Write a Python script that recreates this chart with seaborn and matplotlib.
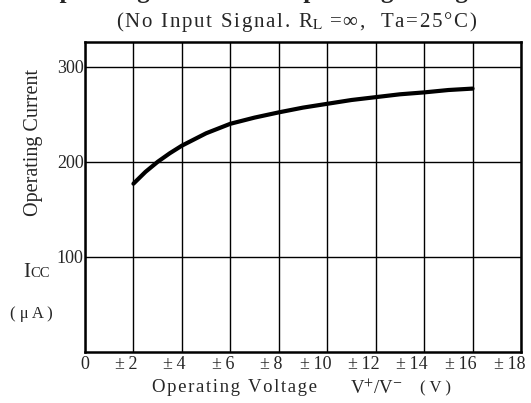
import matplotlib
matplotlib.use("Agg")
import matplotlib.pyplot as plt
import matplotlib.transforms as mtransforms
import seaborn as sns
import pandas as pd

# data
voltage = [2, 2.5, 3, 3.5, 4, 5, 6, 7, 8, 9, 10, 11, 12, 13, 14, 15, 16]
current = [177, 189.5, 200, 209, 217, 230, 240, 246.5, 252, 257, 261, 265, 268, 271, 273, 275.5, 277]
x_ticks = [0, 2, 4, 6, 8, 10, 12, 14, 16, 18]
x_labels = ["0", "±\u20092", "±\u20094", "±\u20096", "±\u20098", "±\u200910",
            "±\u200912", "±\u200914", "±\u200916", "±\u200918"]
y_ticks = [100, 200, 300]

sns.set_style("white")
plt.rcParams['font.family'] = ['Liberation Serif', 'DejaVu Serif']
plt.rcParams['mathtext.fontset'] = 'stix'

W, H = 531, 403


def spaced(s, sp='\u200a'):
    # scanned datasheet text is letter-spaced
    return sp.join(s)


df = pd.DataFrame({'V': voltage, 'I': current})

fig = plt.figure(figsize=(W / 100, H / 100), dpi=100)
ax = fig.add_axes([85 / W, 1 - 352 / H, (521 - 85) / W, (352 - 42) / H])

sns.lineplot(data=df, x='V', y='I', color='black', linewidth=3.0, ax=ax)

ax.set_xlim(0, 18)
ax.set_ylim(0, 326)
ax.set_xticks(x_ticks)
ax.set_xticklabels(x_labels, fontsize=13)
ax.set_yticks(y_ticks)
ax.set_yticklabels([str(v) for v in y_ticks], fontsize=13)
ax.tick_params(axis='both', length=0, pad=3)
ax.tick_params(axis='y', pad=1)
# digits sit next to the grid line, the ± hangs to the left
shift = mtransforms.ScaledTranslation(4 / 100, 0, fig.dpi_scale_trans)
for lbl in ax.get_xticklabels():
    lbl.set_horizontalalignment('right')
    lbl.set_transform(lbl.get_transform() + shift)
ax.grid(True, color='black', linewidth=1.0)
for s in ax.spines.values():
    s.set_color('black')
    s.set_linewidth(1.8)
ax.set_xlabel('')
ax.set_ylabel('')

# titles (top one is cut off in the original scan)
fig.text(40 / W, 1 + 2 / H, 'Operating Current vs. Operating Voltage',
         fontsize=18, fontweight='bold', ha='left', va='baseline')
fig.text(297 / W, 1 - 22 / H,
         spaced('(No Input Signal. R') + '$_{\\rm L}$' + spaced(' =∞,  Ta=25°C)'),
         fontsize=15, ha='center', va='center')

# x axis label
fig.text(152 / W, 1 - 388 / H, spaced('Operating Voltage'),
         fontsize=13.5, ha='left', va='center')
fig.text(350 / W, 1 - 388 / H, 'V$^{+}$/V$^{-}$',
         fontsize=13.5, ha='left', va='center')
fig.text(420 / W, 1 - 388 / H, '( V )', fontsize=12, ha='left', va='center')

# y axis label
fig.text(34 / W, 1 - 143 / H, 'Operating Current', rotation=90,
         fontsize=14.5, ha='center', va='center')
fig.text(23 / W, 1 - 277 / H, 'I', fontsize=15, ha='left', va='baseline')
fig.text(30 / W, 1 - 277 / H, 'CC', fontsize=10.5, ha='left', va='baseline')
fig.text(31 / W, 1 - 314 / H, '( μ A )', fontsize=12, ha='center', va='center')

fig.savefig('out.png', dpi=100)
